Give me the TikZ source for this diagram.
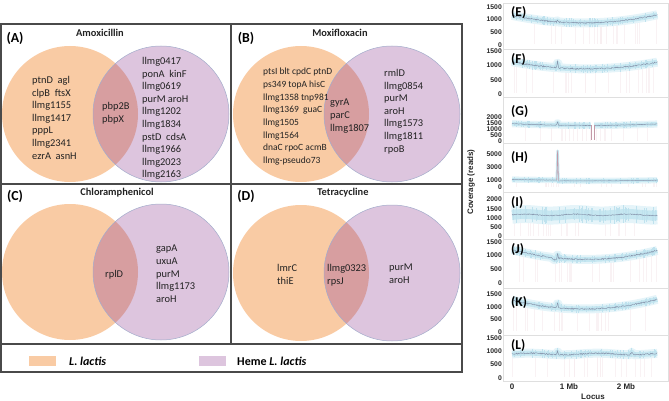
\documentclass[tikz,border=0pt]{standalone}
\usepackage{fontspec}
\setmainfont{Carlito}
\newfontfamily\plotfont{Liberation Sans}
\definecolor{lorange}{HTML}{F9CBA4}
\definecolor{lpurple}{HTML}{DDC5DE}
\definecolor{linter}{HTML}{D79EA0}
\definecolor{pedge}{HTML}{A3ACCB}
\definecolor{framec}{HTML}{4A4A4A}
\definecolor{txt}{HTML}{222222}
\definecolor{band}{HTML}{C6E7F1}
\definecolor{fuzz}{HTML}{BFE2EE}
\definecolor{cline}{HTML}{8795AC}
\definecolor{faintline}{rgb}{0.97,0.93,0.94}
\definecolor{dropc}{HTML}{C49AA8}
\tikzset{
  venntext/.style={font=\fontsize{10.4}{12.6}\selectfont, align=left, inner sep=0pt, anchor=north west, text=txt},
  venntextsmall/.style={font=\fontsize{9.5}{12.7}\selectfont, align=left, inner sep=0pt, anchor=north west, text=txt},
  vtitle/.style={font=\fontsize{10.4}{12}\selectfont\bfseries, inner sep=0pt, text=txt},
  vletter/.style={font=\fontsize{13.8}{14}\selectfont\bfseries, inner sep=0pt, text=black},
  legtext/.style={font=\fontsize{12}{13}\selectfont\bfseries, inner sep=0pt, anchor=west, text=black},
  tick/.style={font=\plotfont\bfseries\fontsize{6.8}{8}\selectfont, anchor=east, inner sep=0pt, text=black!85},
  plabel/.style={font=\fontsize{13.5}{14}\selectfont\bfseries, inner sep=0pt, anchor=west, text=black},
  axlabel/.style={font=\plotfont\bfseries\fontsize{8}{9}\selectfont, inner sep=0pt, text=black!85},
  vframe/.style={draw=framec, line width=1.2pt},
  faint/.style={draw=faintline, line width=0.3pt, opacity=0.7}
}
\newcommand{\venncircles}[2]{%
  \fill[lorange] #1 circle[radius=68pt];
  \fill[lpurple] #2 circle[radius=68pt];
  \begin{scope}
    \clip #1 circle[radius=68pt];
    \fill[linter] #2 circle[radius=68pt];
  \end{scope}
  \draw[pedge, line width=0.5pt] #2 circle[radius=68pt];
}
% #1 top, #2 bottom, #3 zero y, #4 px per 1000 reads, #5 curve (thousands), #6 band width
\newcommand{\covpanel}[6]{%
  \draw[gray!25, line width=0.6pt] (503,#1) rectangle (668,#2);
  \begin{scope}[shift={(512,#3)}, x={(57pt,0pt)}, y={(0pt,#4pt)}]
    \foreach \k in {1,...,22}{
      \pgfmathsetmacro{\x}{1.275+1.275*rand}
      \pgfmathsetmacro{\yv}{#5}
      \path[faint] (\x,0.03) -- (\x,\yv);
    }
    \draw[band!45, line width=#6*1.8, line join=round] plot[domain=0:2.55, samples=200] (\x,{#5});
    \draw[band, line width=#6, line join=round] plot[domain=0:2.55, samples=200] (\x,{#5});
    \foreach \k in {1,...,70}{
      \pgfmathsetmacro{\x}{1.275+1.275*rand}
      \pgfmathsetmacro{\yv}{#5}
      \pgfmathsetmacro{\hw}{#6*0.9/#4*(0.7+0.3*rand)}
      \draw[fuzz, line width=0.3pt] (\x,{\yv-\hw}) -- (\x,{\yv+\hw});
    }
    \draw[cline, line width=0.45pt] plot[domain=0:2.55, samples=260] (\x,{#5+0.025*rand});
  \end{scope}
}
\newcommand{\covticks}[3]{%
  \foreach \v in {#3}{
    \node[tick] at (502,{#1-\v/1000*#2}) {\v};
  }
}
\begin{document}
\begin{tikzpicture}[x=1pt,y=-1pt]
\useasboundingbox (0,0) rectangle (669,401);
\pgfmathsetseed{7}
% ---------- Venn circles ----------
\venncircles{(70,114)}{(161,114)}
\venncircles{(301,114)}{(392,114)}
\venncircles{(70,272)}{(161,272)}
\venncircles{(301,273)}{(392,273)}
% ---------- frame ----------
\draw[vframe] (1,24) rectangle (462,372);
\draw[vframe] (231,24) -- (231,344);
\draw[vframe] (1,184) -- (462,184);
\draw[vframe] (1,344) -- (462,344);
% ---------- titles ----------
\node[vletter] (la) at (15,38) {(A)};
\node[vletter] (lb) at (246,38) {(B)};
\node[vletter] (lc) at (15,196) {(C)};
\node[vletter] (ld) at (246,196) {(D)};
\node[vtitle] (ta) at (100,33) {Amoxicillin};
\node[vtitle] (tb) at (340,33) {Moxifloxacin};
\node[vtitle] (tc) at (117,193) {Chloramphenicol};
\node[vtitle] (td) at (343,193) {Tetracycline};
% ---------- A ----------
\node[venntext] (aL) at (32,76) {ptnD~~agl\\clpB~~ftsX\\llmg1155\\llmg1417\\pppL\\llmg2341\\ezrA~~asnH};
\node[venntext] (aC) at (102,102) {pbp2B\\pbpX};
\node[venntext] (aR) at (142,57) {llmg0417\\ponA~~kinF\\llmg0619\\purM aroH\\llmg1202\\llmg1834\\pstD~~cdsA\\llmg1966\\llmg2023\\llmg2163};
% ---------- B ----------
\node[venntextsmall] (bL) at (263,68) {ptsI blt cpdC ptnD\\ps349 topA hisC\\llmg1358 tnp981\\llmg1369~~guaC\\llmg1505\\llmg1564\\dnaC rpoC acmB\\llmg-pseudo73};
\node[venntext] (bC) at (330,99) {gyrA\\parC\\llmg1807};
\node[venntext] (bR) at (384,69) {rmlD\\llmg0854\\purM\\aroH\\llmg1573\\llmg1811\\rpoB};
% ---------- C ----------
\node[venntext] (cC) at (105,270) {rplD};
\node[venntext] (cR) at (156,245) {gapA\\uxuA\\purM\\llmg1173\\aroH};
% ---------- D ----------
\node[venntext] (dL) at (277,264) {lmrC\\thiE};
\node[venntext] (dC) at (327,264) {llmg0323\\rpsJ};
\node[venntext] (dR) at (389,264) {purM\\aroH};
% ---------- legend ----------
\fill[lorange] (29,356) rectangle (56,366);
\node[legtext] (leg1) at (69,361) {\textit{L. lactis}};
\fill[lpurple] (199,356) rectangle (226,366);
\node[legtext] (leg2) at (237,361) {Heme \textit{L. lactis}};
% ---------- coverage plots ----------
\covpanel{3}{49}{45}{25.4}{0.87+0.19*(\x-1.25)*(\x-1.25)+0.06*max(0,1-abs(\x-0.8)*60)}{5}
\covticks{45}{25.4}{0,500,1000,1500}
\covpanel{49}{97}{94}{28.6}{0.88+0.15*(\x-1.3)*(\x-1.3)+0.25*max(0,1-abs(\x-0.8)*60)}{5}
\covticks{94}{28.6}{0,500,1000,1500}
\covpanel{97}{143}{141}{12}{1.30+0.08*(\x-1.35)*(\x-1.35)+0.3*max(0,1-abs(\x-0.8)*60)}{4}
\begin{scope}[shift={(512,141)}, x={(57pt,0pt)}, y={(0pt,12pt)}]
  \fill[white] (1.388,0.05) rectangle (1.432,2.2);
  \draw[dropc, line width=0.6pt] (1.385,1.3) -- (1.385,0.05);
  \draw[dropc, line width=0.6pt] (1.435,1.3) -- (1.435,0.05);
\end{scope}
\covticks{141}{12}{0,500,1000,1500,2000}
\covpanel{143}{192}{187}{6.6}{0.93+0.06*(\x-1.3)*(\x-1.3)+0.1*(\x<0.8)}{3.5}
\begin{scope}[shift={(512,187)}, x={(57pt,0pt)}, y={(0pt,6.6pt)}]
  \draw[band, line width=2.5pt, line join=round] (0.785,1.05) -- (0.80,5.5) -- (0.815,0.95);
  \draw[dropc, line width=0.6pt, line join=round] (0.785,1.05) -- (0.80,5.5) -- (0.815,0.95);
\end{scope}
\covticks{187}{6.6}{0,1000,3000,5000}
\covpanel{192}{239}{237}{18.5}{1.2+0.04*sin(\x*400)}{10}
\covticks{236.5}{18.5}{0,500,1000,1500,2000}
\covpanel{239}{288}{283}{27.4}{0.86+0.21*(\x-1.3)*(\x-1.3)+0.2*max(0,1-abs(\x-0.8)*60)-0.08*max(0,1-abs(\x-0.75)*15)}{5}
\covticks{283}{27.4}{0,500,1000}
\node[tick] at (502,242.5) {1500};
\covpanel{288}{335}{332}{25.3}{0.91+0.227*(\x-1.25)*(\x-1.25)+0.25*max(0,1-abs(\x-0.8)*60)}{5}
\covticks{332}{25.3}{0,500,1000,1500}
\covpanel{335}{381}{378}{26.7}{0.9+0.03*sin(\x*300)+0.15*max(0,1-abs(\x-0.8)*60)+0.1*max(0,1-abs(\x-2.1)*30)}{5}
\covticks{378}{26.7}{0,500,1000,1500}
% panel letters
\node[plabel] (pE) at (511,13) {(E)};
\node[plabel] (pF) at (511,60) {(F)};
\node[plabel] (pG) at (511,112) {(G)};
\node[plabel] (pH) at (511,158) {(H)};
\node[plabel] (pI) at (511,203) {(I)};
\node[plabel] (pJ) at (511,250) {(J)};
\node[plabel] (pK) at (511,303) {(K)};
\node[plabel] (pL) at (511,346) {(L)};
% axes labels
\node[axlabel] (x0) at (512,387) {0};
\node[axlabel] (x1) at (569,387) {1 Mb};
\node[axlabel] (x2) at (626,387) {2 Mb};
\node[axlabel] (locus) at (593,397) {Locus};
\node[axlabel, rotate=90] (cov) at (471,182) {Coverage (reads)};
\end{tikzpicture}
\end{document}
